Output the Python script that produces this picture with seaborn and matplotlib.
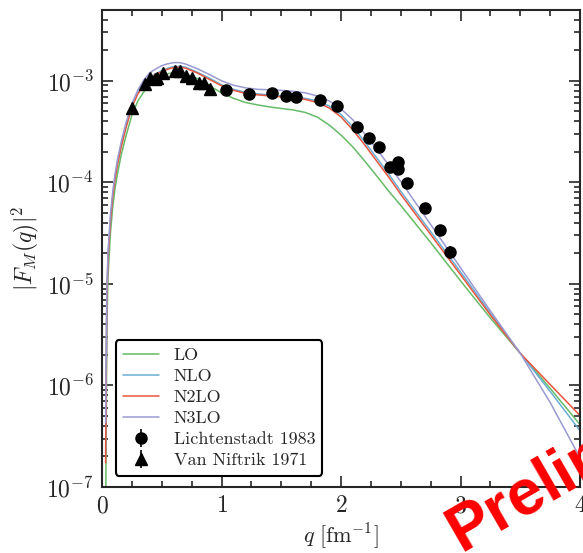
import numpy as np
import pandas as pd
import seaborn as sns
import matplotlib
matplotlib.use("Agg")
import matplotlib.pyplot as plt
from matplotlib.ticker import MultipleLocator, LogLocator, NullFormatter

# ---------------- data ----------------
q_grid = [0.03, 0.04, 0.05, 0.07, 0.09, 0.11, 0.13, 0.16, 0.2, 0.25, 0.3, 0.35, 0.4,
          0.45, 0.5, 0.55, 0.6, 0.65, 0.7, 0.8, 0.9, 1.0, 1.1, 1.2, 1.3, 1.4, 1.5,
          1.6, 1.7, 1.8, 1.9, 2.0, 2.1, 2.2, 2.3, 2.4, 2.5, 2.75, 3.0, 3.25, 3.5,
          3.75, 4.0]

lo = [4.4e-8, 3.35e-6, 1.17e-5, 3.13e-5, 5.78e-5, 8.92e-5, 1.23e-4, 1.85e-4, 2.85e-4,
      4.60e-4, 6.34e-4, 7.78e-4, 9.12e-4, 1.02e-3, 1.10e-3, 1.17e-3, 1.21e-3, 1.21e-3,
      1.17e-3, 1.05e-3, 8.92e-4, 7.61e-4, 6.71e-4, 6.12e-4, 5.79e-4, 5.53e-4, 5.34e-4,
      5.16e-4, 4.88e-4, 4.40e-4, 3.67e-4, 2.92e-4, 2.22e-4, 1.61e-4, 1.15e-4, 8.15e-5,
      5.92e-5, 2.55e-5, 1.07e-5, 4.60e-6, 2.07e-6, 9.34e-7, 4.11e-7]

nlo = [2.17e-7, 6.95e-6, 1.81e-5, 4.21e-5, 7.43e-5, 1.12e-4, 1.54e-4, 2.27e-4, 3.51e-4,
       5.65e-4, 7.61e-4, 9.34e-4, 1.07e-3, 1.17e-3, 1.26e-3, 1.33e-3, 1.38e-3, 1.39e-3,
       1.36e-3, 1.21e-3, 1.06e-3, 9.12e-4, 8.24e-4, 7.69e-4, 7.43e-4, 7.27e-4, 7.10e-4,
       6.95e-4, 6.71e-4, 6.34e-4, 5.65e-4, 4.66e-4, 3.51e-4, 2.49e-4, 1.73e-4, 1.20e-4,
       8.15e-5, 3.27e-5, 1.31e-5, 5.16e-6, 2.07e-6, 8.72e-7, 3.58e-7]

n2lo = [1.73e-7, 6.64e-6, 1.77e-5, 4.11e-5, 7.26e-5, 1.10e-4, 1.51e-4, 2.22e-4, 3.43e-4,
        5.53e-4, 7.43e-4, 9.12e-4, 1.05e-3, 1.15e-3, 1.23e-3, 1.30e-3, 1.35e-3, 1.36e-3,
        1.33e-3, 1.19e-3, 1.03e-3, 8.92e-4, 8.05e-4, 7.52e-4, 7.27e-4, 7.10e-4, 6.95e-4,
        6.79e-4, 6.56e-4, 6.12e-4, 5.40e-4, 4.40e-4, 3.27e-4, 2.32e-4, 1.61e-4, 1.12e-4,
        7.61e-5, 3.06e-5, 1.23e-5, 4.93e-6, 2.07e-6, 1.02e-6, 5.05e-7]

n3lo = [4.31e-7, 8.3e-6, 2.07e-5, 4.82e-5, 8.15e-5, 1.23e-4, 1.69e-4, 2.49e-4, 3.84e-4,
        5.92e-4, 8.15e-4, 1.02e-3, 1.20e-3, 1.31e-3, 1.41e-3, 1.47e-3, 1.51e-3, 1.51e-3,
        1.46e-3, 1.31e-3, 1.15e-3, 1.00e-3, 9.03e-4, 8.53e-4, 8.24e-4, 8.15e-4, 8.05e-4,
        7.87e-4, 7.61e-4, 7.10e-4, 6.34e-4, 5.28e-4, 4.11e-4, 2.99e-4, 2.12e-4, 1.47e-4,
        1.02e-4, 3.84e-5, 1.44e-5, 5.41e-6, 2.07e-6, 6.79e-7, 1.94e-7]

licht_q = [1.04, 1.23, 1.42, 1.54, 1.62, 1.82, 1.97, 2.13, 2.23, 2.32, 2.41, 2.48, 2.48,
           2.55, 2.70, 2.83, 2.91]
licht_v = [8.15e-4, 7.43e-4, 7.61e-4, 7.11e-4, 6.95e-4, 6.49e-4, 5.65e-4, 3.51e-4,
           2.73e-4, 2.22e-4, 1.41e-4, 1.58e-4, 1.35e-4, 9.8e-5, 5.65e-5, 3.43e-5, 2.07e-5]
licht_err = [3e-5, 3e-5, 3e-5, 3e-5, 3e-5, 3e-5, 3e-5, 2e-5, 2.5e-5, 1.5e-5, 1e-5,
             1e-5, 1e-5, 8e-6, 4e-6, 3e-6, 3e-6]

van_q = [0.25, 0.36, 0.40, 0.44, 0.46, 0.51, 0.61, 0.65, 0.70, 0.75, 0.81, 0.85, 0.90]
van_v = [5.4e-4, 9.3e-4, 1.07e-3, 1.05e-3, 1.07e-3, 1.20e-3, 1.26e-3, 1.26e-3, 1.12e-3,
         1.07e-3, 9.55e-4, 9.55e-4, 8.34e-4]
van_err = [3e-5, 4e-5, 4e-5, 4e-5, 4e-5, 5e-5, 5e-5, 5e-5, 5e-5, 5e-5, 4e-5, 4e-5, 4e-5]

models = ["LO", "NLO", "N2LO", "N3LO"]
colors = {"LO": "#66bb66", "NLO": "#6aaed6", "N2LO": "#e8553c", "N3LO": "#9a9ad2"}

df = pd.DataFrame({
    "q": q_grid * 4,
    "F": lo + nlo + n2lo + n3lo,
    "order": sum([[m] * len(q_grid) for m in models], []),
})

# ---------------- style ----------------
sns.set_style("ticks")
plt.rcParams.update({
    "font.family": "serif",
    "font.serif": ["cmr10", "DejaVu Serif"],
    "mathtext.fontset": "cm",
    "axes.formatter.use_mathtext": True,
    "axes.unicode_minus": False,
    "axes.linewidth": 1.5,
})

fig = plt.figure(figsize=(5.83, 5.53), dpi=100)
ax = fig.add_axes([0.175, 0.1193, 0.82, 0.863])

for m in models:
    sub = df[df["order"] == m]
    sns.lineplot(data=sub, x="q", y="F", ax=ax, color=colors[m], lw=1.1,
                 label=m, estimator=None, sort=False)

ax.errorbar(licht_q, licht_v, yerr=licht_err, fmt="o", color="black", ms=8,
            elinewidth=1.2, capsize=0, label="Lichtenstadt 1983", zorder=5)
ax.errorbar(van_q, van_v, yerr=van_err, fmt="^", color="black", ms=8.5,
            elinewidth=1.2, capsize=0, label="Van Niftrik 1971", zorder=5)

ax.set_yscale("log")
ax.set_xlim(0, 4)
ax.set_ylim(1e-7, 5e-3)

ax.xaxis.set_major_locator(MultipleLocator(1))
ax.xaxis.set_minor_locator(MultipleLocator(0.25))
ax.yaxis.set_major_locator(LogLocator(base=10, numticks=20))
ax.yaxis.set_minor_locator(LogLocator(base=10, subs=np.arange(2, 10), numticks=50))
ax.yaxis.set_minor_formatter(NullFormatter())

ax.tick_params(which="both", direction="in", top=True, right=True, width=1.2)
ax.tick_params(which="major", length=8, labelsize=17, pad=6)
ax.tick_params(which="minor", length=4.5)
for s in ax.spines.values():
    s.set_visible(True)
    s.set_linewidth(1.5)

ax.set_xlabel(r"$q\ [\mathrm{fm}^{-1}]$", fontsize=16, labelpad=3)
ax.set_ylabel(r"$|F_M(q)|^2$", fontsize=17, labelpad=4)

leg = ax.legend(loc="lower left", fontsize=13, frameon=True, fancybox=True,
                handlelength=2.0, labelspacing=0.3, borderpad=0.4,
                bbox_to_anchor=(0.01, 0.005))
leg.get_frame().set_edgecolor("black")
leg.get_frame().set_linewidth(1.5)
leg.get_frame().set_alpha(1)

fig.text(461 / 583, 1 - 552 / 553, "Preliminary", color="red", fontsize=46,
         fontweight="bold", family="Liberation Sans", rotation=30,
         rotation_mode="anchor", ha="left", va="baseline")

fig.savefig("out.png", dpi=100)
